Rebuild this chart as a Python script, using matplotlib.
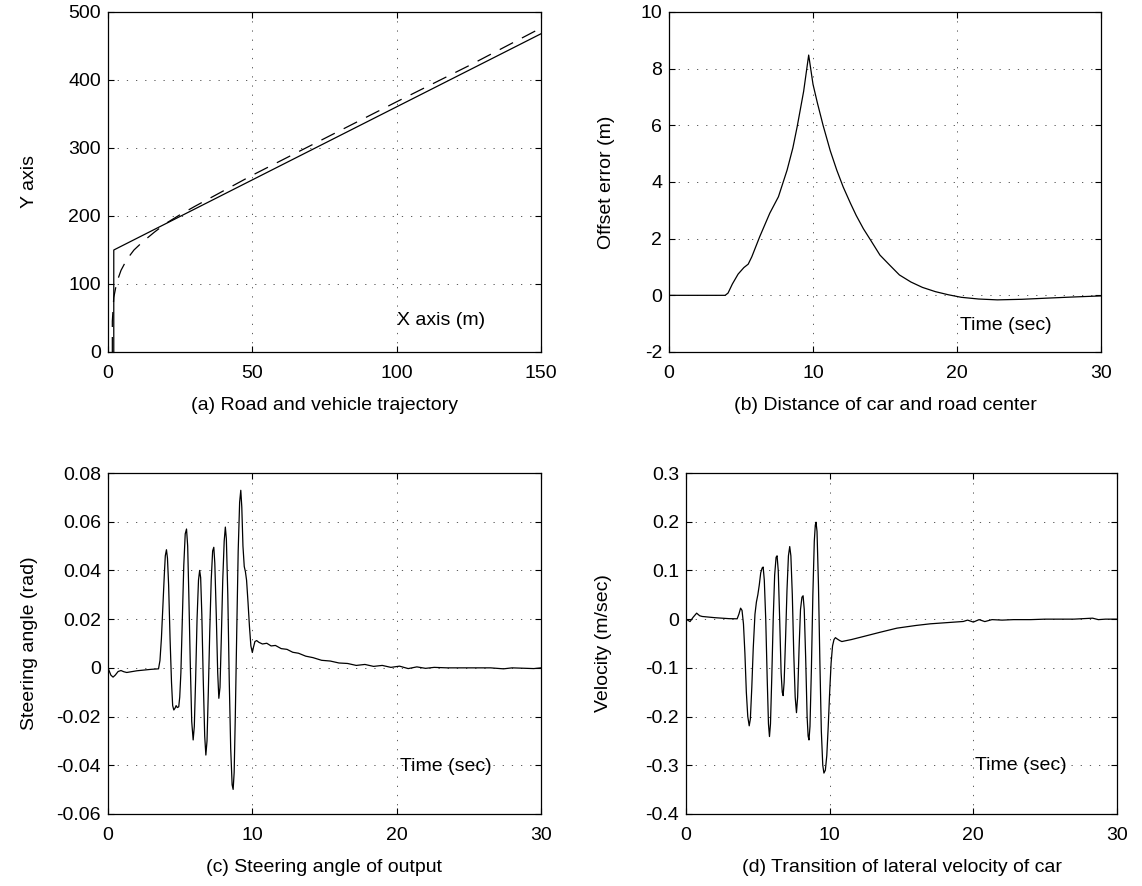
import numpy as np
import matplotlib
matplotlib.use("Agg")
import matplotlib.pyplot as plt
from matplotlib.ticker import FormatStrFormatter

plt.rcParams['font.family'] = ['Liberation Sans', 'DejaVu Sans']
plt.rcParams['axes.unicode_minus'] = False

# (a) road (solid) and vehicle trajectory (dashed)
road_x = [2, 2, 150]
road_y = [0, 150, 468]
car_x = [1.5, 1.5, 2.0, 3.0, 4.5, 6.5, 9, 12, 16, 20, 25, 30, 40, 50, 75, 100, 125, 148]
car_y = [0, 45, 80, 102, 120, 136, 150, 162, 176, 189, 202, 214, 237, 260, 314, 368, 421, 472]

# (b) offset error
t_b = [0, 3.9, 4.1, 4.4, 4.8, 5.2, 5.5, 5.75, 6.3, 7.0, 7.6, 8.2, 8.6, 8.9, 9.35, 9.7,
       10.0, 10.3, 10.7, 11.2, 11.65, 12.1, 12.6, 13.0, 13.5, 14.0, 14.65, 15.3, 16.0,
       16.8, 17.6, 18.5, 19.4, 20.3, 21.5, 22.8, 24.5, 26.2, 28.0, 30]
v_b = [0, 0, 0.08, 0.4, 0.75, 0.98, 1.1, 1.36, 2.07, 2.9, 3.48, 4.42, 5.2, 5.95, 7.2, 8.48,
       7.45, 6.8, 6.0, 5.1, 4.42, 3.82, 3.25, 2.82, 2.35, 1.95, 1.42, 1.08, 0.72,
       0.47, 0.28, 0.13, 0.02, -0.07, -0.13, -0.16, -0.14, -0.1, -0.06, -0.02]

# (c) steering angle
t_c = [0, 0.2, 0.35, 0.5, 0.7, 0.9, 1.1, 1.3, 2.0, 3.0, 3.5,
       3.6, 3.7, 3.8, 3.9, 3.97, 4.05, 4.12, 4.2, 4.3, 4.4, 4.48, 4.56, 4.65, 4.72, 4.8,
       4.9, 4.97, 5.05, 5.15, 5.25, 5.35, 5.44, 5.52, 5.6, 5.7, 5.8, 5.9, 5.98, 6.07, 6.17,
       6.27, 6.35, 6.42, 6.5, 6.6, 6.7, 6.78, 6.86, 6.95, 7.05, 7.15, 7.25, 7.33, 7.4, 7.5,
       7.6, 7.68, 7.76, 7.85, 7.95, 8.05, 8.13, 8.2, 8.3, 8.4, 8.5, 8.6, 8.67, 8.74, 8.82,
       8.92, 9.02, 9.12, 9.2, 9.27, 9.35, 9.44, 9.52, 9.6, 9.7, 9.8, 9.9, 10.0, 10.08,
       10.18, 10.3, 10.45,
       10.7, 11.0, 11.3, 11.6, 12.0, 12.4, 12.8, 13.2, 13.7, 14.2, 14.8, 15.4, 16.0, 16.6,
       17.2, 17.8, 18.4, 19.0, 19.6, 20.2, 20.8, 21.4, 22.0, 22.6, 23.5, 24.5, 26.5, 27.4,
       28.0, 29.5, 30]
v_c = [0, -0.003, -0.0038, -0.003, -0.0015, -0.0011, -0.0016, -0.0019, -0.0012, -0.0006,
       -0.0004,
       0.003, 0.012, 0.025, 0.038, 0.046, 0.0485, 0.045, 0.034, 0.012, -0.006, -0.0155,
       -0.0173, -0.0165, -0.0155, -0.0163,
       -0.016, -0.012, -0.002, 0.02, 0.042, 0.055, 0.057, 0.05, 0.03, 0.002, -0.022,
       -0.0296, -0.024, -0.005, 0.02,
       0.036, 0.040, 0.037, 0.022, -0.005, -0.028, -0.0358, -0.03, -0.01, 0.015, 0.036,
       0.048, 0.0495, 0.043, 0.022,
       -0.002, -0.0125, -0.008, 0.012, 0.036, 0.052, 0.0578, 0.053, 0.03, -0.005, -0.033,
       -0.048, -0.0499, -0.043, -0.02,
       0.015, 0.048, 0.068, 0.0729, 0.066, 0.05, 0.0416, 0.0395, 0.036, 0.027, 0.017,
       0.009, 0.0063, 0.0085,
       0.0108, 0.0112, 0.0105,
       0.0098, 0.0101, 0.0090, 0.0092, 0.0079, 0.0076, 0.0064, 0.0060, 0.0048, 0.0042,
       0.0031, 0.0028, 0.0020, 0.0018,
       0.0010, 0.0014, 0.0006, 0.0010, 0.0002, 0.0007, -0.0003, 0.0004, -0.0002, 0.0002,
       0.0, 0.0, 0.0, -0.0004,
       0.0, -0.0003, 0.0]

# (d) lateral velocity
t_d = [0, 0.28, 0.5, 0.74, 0.95, 1.13, 2.0, 3.0, 3.56,
       3.68, 3.8, 3.9, 4.0, 4.1, 4.2, 4.3, 4.4, 4.48, 4.58, 4.68, 4.8, 4.9, 5.0, 5.1, 5.2,
       5.3, 5.37, 5.45, 5.55, 5.65, 5.74, 5.81, 5.88, 5.97, 6.07, 6.17, 6.27, 6.34, 6.42,
       6.52, 6.62, 6.7, 6.76, 6.83, 6.93, 7.03, 7.13, 7.22, 7.3, 7.4, 7.5, 7.6, 7.69, 7.77,
       7.87, 7.97, 8.07, 8.15, 8.23, 8.33, 8.43, 8.5, 8.56, 8.63, 8.73, 8.83, 8.93, 9.0,
       9.05, 9.12, 9.22, 9.32, 9.42, 9.52, 9.6, 9.7, 9.8, 9.9, 10.0, 10.1, 10.2, 10.3, 10.4,
       10.51, 10.7, 10.85, 11.0,
       11.5, 12.36, 13.5, 14.68, 16.0, 17.0, 18.0, 19.3, 19.6, 20.0, 20.4, 20.8, 21.3, 22.0,
       22.8, 24.0, 25.0, 27.0, 28.3, 28.7, 29.2, 30]
v_d = [0, -0.005, 0.004, 0.0123, 0.007, 0.0055, 0.003, 0.001, 0.0007,
       0.01, 0.0226, 0.018, -0.01, -0.07, -0.15, -0.2, -0.219, -0.205, -0.14, -0.06, 0.01,
       0.035, 0.05, 0.07, 0.095,
       0.105, 0.107, 0.08, 0.0, -0.12, -0.215, -0.241, -0.215, -0.12, 0.0, 0.09, 0.127,
       0.130, 0.1,
       0.0, -0.11, -0.15, -0.157, -0.13, -0.04, 0.06, 0.13, 0.149, 0.13, 0.05, -0.07, -0.16,
       -0.192, -0.16,
       -0.06, 0.02, 0.045, 0.048, 0.02, -0.08, -0.2, -0.24, -0.248, -0.22, -0.1, 0.05, 0.16,
       0.193,
       0.199, 0.18, 0.07, -0.09, -0.23, -0.3, -0.316, -0.31, -0.28, -0.22, -0.15, -0.09,
       -0.055, -0.042, -0.038,
       -0.0404, -0.044, -0.046, -0.045,
       -0.042, -0.0356, -0.027, -0.0185, -0.013, -0.0096, -0.0075, -0.0048, -0.002, -0.006,
       -0.001, -0.005, -0.001, -0.002,
       -0.001, -0.001, 0, 0, 0.002, -0.001, 0.0, 0]

captions = ["(a) Road and vehicle trajectory", "(b) Distance of car and road center",
            "(c) Steering angle of output", "(d) Transition of lateral velocity of car"]
ylabels = ["Y axis", "Offset error (m)", "Steering angle (rad)", "Velocity (m/sec)"]

W, H = 1142, 886
fig = plt.figure(figsize=(W / 100, H / 100), dpi=100)


def make_axes(x0, x1, y0, y1):
    return fig.add_axes([x0 / W, 1 - y1 / H, (x1 - x0) / W, (y1 - y0) / H])


axa = make_axes(108, 541, 12, 352)
axb = make_axes(669, 1101, 12, 352)
axc = make_axes(108, 541, 473, 814)
axd = make_axes(686, 1117, 473, 814)

lw = 0.9
axa.plot(road_x, road_y, color='black', lw=lw)
axa.plot(car_x, car_y, color='black', lw=lw, dashes=(12, 8))
axb.plot(t_b, v_b, color='black', lw=lw)
axc.plot(t_c, v_c, color='black', lw=lw)
axd.plot(t_d, v_d, color='black', lw=lw)

axa.set_xlim(0, 150)
axa.set_ylim(0, 500)
axa.set_xticks([0, 50, 100, 150])
axa.set_yticks([0, 100, 200, 300, 400, 500])

axb.set_xlim(0, 30)
axb.set_ylim(-2, 10)
axb.set_yticks([-2, 0, 2, 4, 6, 8, 10])

axc.set_xlim(0, 30)
axc.set_ylim(-0.06, 0.08)
axc.set_yticks([-0.06, -0.04, -0.02, 0, 0.02, 0.04, 0.06, 0.08])

axd.set_xlim(0, 30)
axd.set_ylim(-0.4, 0.3)
axd.set_yticks([-0.4, -0.3, -0.2, -0.1, 0, 0.1, 0.2, 0.3])

for ax in (axb, axc, axd):
    ax.set_xticks([0, 10, 20, 30])

label_x = [-0.162, -0.125, -0.162, -0.172]
for ax, cap, yl, lx in zip((axa, axb, axc, axd), captions, ylabels, label_x):
    ax.yaxis.set_major_formatter(FormatStrFormatter('%g'))
    ax.xaxis.set_major_formatter(FormatStrFormatter('%g'))
    ax.grid(True, color='0.25', lw=0.6, linestyle=(0, (1.5, 9.5)))
    ax.tick_params(direction='in', length=4, width=0.8, labelsize=14,
                   top=True, right=True)
    ax.tick_params(axis='x', pad=9)
    ax.tick_params(axis='y', pad=5)
    for s in ax.spines.values():
        s.set_linewidth(0.9)
    ax.set_ylabel(yl, fontsize=14)
    ax.yaxis.set_label_coords(lx, 0.5)
    ax.text(0.5, -0.158, cap, transform=ax.transAxes, ha='center', va='center', fontsize=14)

axa.text(100, 47, "X axis (m)", ha='left', va='center', fontsize=14)
axb.text(20.2, -1.05, "Time (sec)", ha='left', va='center', fontsize=14)
axc.text(20.2, -0.0406, "Time (sec)", ha='left', va='center', fontsize=14)
axd.text(20.1, -0.30, "Time (sec)", ha='left', va='center', fontsize=14)

fig.savefig("out.png", dpi=100)
